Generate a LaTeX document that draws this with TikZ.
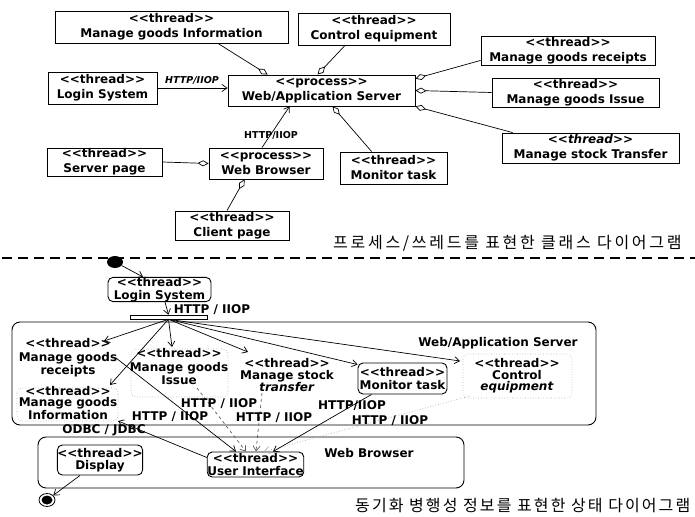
\documentclass[tikz,border=0pt]{standalone}
\usepackage{fontspec}
\setmainfont{DejaVu Sans}
\newfontfamily\krfont{Noto Sans CJK KR}[LetterSpace=17]
\newfontfamily\krtight{Noto Sans CJK KR}[LetterSpace=13]
\usetikzlibrary{arrows.meta,positioning,calc,shapes.geometric}
\definecolor{UMfaint}{RGB}{170,170,170}
\definecolor{UMdash}{RGB}{90,90,90}
\newcommand{\thr}{<\kern0pt<thread>\kern0pt>}
\newcommand{\proc}{<\kern0pt<process>\kern0pt>}

\begin{document}
\begin{tikzpicture}[x=1pt,y=-1pt,
    font=\bfseries\fontsize{12}{15}\selectfont,
    cls/.style={draw,line width=0.9pt,align=center,inner sep=0pt},
    st/.style={draw,rounded corners=5pt,line width=0.9pt,align=center,inner sep=0pt,
      font=\bfseries\fontsize{12}{12.5}\selectfont},
    txt/.style={align=center,inner sep=0pt},
    agg/.style={{Diamond[open,length=11pt,width=6pt]}-,line width=0.7pt},
    flow/.style={-{Straight Barb[length=5pt,width=7pt]},line width=0.7pt},
    small/.style={inner sep=0pt,font=\bfseries\fontsize{9.5}{10}\selectfont},
    faint/.style={UMfaint,dotted,rounded corners=5pt,line width=0.6pt}]
  \useasboundingbox (0,0) rectangle (695,516);

  % class diagram
  \node[cls,minimum width=233,minimum height=32] (minfo) at (171.5,27) {\thr\\Manage goods Information};
  \node[cls,minimum width=152,minimum height=32] (ctrl) at (374,29) {\thr\\Control equipment};
  \node[cls,minimum width=109,minimum height=32] (login) at (102.5,88) {\thr\\Login System};
  \node[cls,minimum width=187,minimum height=31] (webapp) at (321.5,90.5) {\proc\\Web/Application Server};
  \node[cls,minimum width=174,minimum height=29] (receipts) at (568,50.5) {\thr\\Manage goods receipts};
  \node[cls,minimum width=167,minimum height=29] (issue) at (575.5,92.5) {\thr\\Manage goods Issue};
  \node[cls,minimum width=177,minimum height=30] (transfer) at (590.5,148) {\textit{\thr}\\Manage stock Transfer};
  \node[cls,minimum width=107,minimum height=32] (monitor) at (393.5,168) {\thr\\Monitor task};
  \node[cls,minimum width=114,minimum height=31] (browser) at (266,163.5) {\proc\\Web Browser};
  \node[cls,minimum width=115,minimum height=28] (srvpage) at (104.5,162) {\thr\\Server page};
  \node[cls,minimum width=114,minimum height=29] (client) at (232,225.5) {\thr\\Client page};

  \draw[agg] ([xshift=40]webapp.north west) -- ([xshift=46.5]minfo.south);
  \draw[agg] ([xshift=90]webapp.north west) -- ([xshift=-29]ctrl.south);
  \draw[agg] ([yshift=-4]webapp.north east) -- ([yshift=5]receipts.south west);
  \draw[agg] (webapp.east) -- (issue.west);
  \draw[agg] (webapp.south east) -- ([xshift=11]transfer.north west);
  \draw[agg] ([xshift=105]webapp.south west) -- ([xshift=32]monitor.north west);
  \draw[agg] (browser.west) -- (srvpage.east);
  \draw[agg] ([xshift=36]browser.south west) -- ([xshift=-5]client.north);
  \draw[flow] (login.east) -- (login.east -| webapp.west);
  \draw[flow] ([xshift=-4]browser.north) -- ([xshift=62]webapp.south west);
  \node[small] (hiop1) at (192,80) {\textit{HTTP/IIOP}};
  \node[small] (hiop2) at (271,135) {HTTP/IIOP};

  \node[anchor=west,inner sep=0pt,font=\krfont\fontsize{16}{16}\selectfont] (cap1) at (333,243)
    {프로세스/쓰레드를 표현한 클래스 다이어그램};
  \draw[line width=1.6pt,dash pattern=on 10pt off 6pt] (2,258) -- (695,258);

  % state diagram
  \node[ellipse,fill,minimum width=16,minimum height=12,inner sep=0pt] (init) at (115,262) {};
  \node[st,minimum width=103,minimum height=23] (login2) at (159.5,289.5) {\thr\\Login System};
  \node[draw,fill=white,minimum width=77,minimum height=4,inner sep=0pt,line width=0.6pt] (bar) at (168.5,317) {};
  \draw[flow] (init) -- ([xshift=-16.5]login2.north);
  \draw[flow] ([xshift=5.5]login2.south) -- (bar.north);
  \node[inner sep=0pt] (hiop3) at (212,310) {HTTP / IIOP};

  \node[draw,rounded corners=8pt,minimum width=584,minimum height=103,line width=0.9pt] (wasbox) at (304,373.5) {};
  \node[inner sep=0pt] (wastitle) at (498,343) {Web/Application Server};

  \draw[faint] (17,388) rectangle (118,421);
  \draw[faint] (131,349) rectangle (228,397);
  \draw[faint] (463,354) rectangle (572,398);

  \node[txt,font=\bfseries\fontsize{12}{13.5}\selectfont] (receipts2) at (68,358) {\thr\\Manage goods\\receipts};
  \node[txt,font=\bfseries\fontsize{12}{11.5}\selectfont] (info2) at (68,403) {\thr\\Manage goods\\Information};
  \node[txt,font=\bfseries\fontsize{12}{13.5}\selectfont] (issue2) at (179,367) {\thr\\Manage goods\\Issue};
  \node[txt,font=\bfseries\fontsize{12}{12}\selectfont] (transfer2) at (287,375) {\thr\\Manage stock\\\textit{transfer}};
  \node[st,minimum width=89,minimum height=31] (monitor2) at (402.5,378.5) {\thr\\Monitor task};
  \node[txt,font=\bfseries\fontsize{12}{11.5}\selectfont] (control2) at (517,376) {\thr\\Control\\\textit{equipment}};

  \draw[flow] (bar.south) -- ([xshift=36,yshift=17]receipts2.center);
  \draw[flow] (bar.south) -- ([xshift=42,yshift=18]info2.center);
  \draw[flow] (bar.south) -- ([xshift=-7,yshift=20]issue2.center);
  \draw[flow] (bar.south) -- ([xshift=-39,yshift=23]transfer2.center);
  \draw[flow] (bar.south) -- ([yshift=-2]monitor2.north west);
  \draw[flow] (bar.south) -- ([xshift=-57,yshift=15]control2.center);

  \node[draw,rounded corners=8pt,minimum width=426,minimum height=51,line width=0.9pt] (wbbox) at (251,462.5) {};
  \node[inner sep=0pt] (wbtitle) at (369,453) {Web Browser};
  \node[st,minimum width=84,minimum height=30] (display) at (100,460) {\thr\\Display};
  \node[st,minimum width=95,minimum height=25] (ui) at (255.5,464.5) {\thr\\User Interface};
  \node[ellipse,draw,minimum width=16,minimum height=13,inner sep=0pt,line width=0.8pt] (final) at (47,500) {};
  \fill (final.center) ellipse (5.5 and 4.5);

  \draw[flow] ([xshift=48]receipts2.center) -- ([xshift=-19.5]ui.north);
  \draw[flow,UMdash,dashed] ([xshift=18,yshift=-21]issue2.center) -- ([xshift=-9.5]ui.north);
  \draw[flow,UMdash,dashed] ([xshift=-25,yshift=-18]transfer2.center) -- ([xshift=0.5]ui.north);
  \draw[flow,UMfaint,dotted] ([xshift=-47,yshift=-20]control2.center) -- ([xshift=8.5]ui.north);
  \draw[flow] ([xshift=14]monitor2.south west) -- ([xshift=17.5]ui.north);
  \draw[flow] ([yshift=7]ui.west) -- ([xshift=50,yshift=-18]info2.center);
  \draw[flow] ([xshift=-20]display.south) -- (final);

  \node[inner sep=0pt] (hiop4) at (170,417) {HTTP / IIOP};
  \node[inner sep=0pt] (hiop5) at (219,404) {HTTP / IIOP};
  \node[inner sep=0pt] (hiop6) at (274,418) {HTTP / IIOP};
  \node[inner sep=0pt] (hiop7) at (352,406) {HTTP/IIOP};
  \node[inner sep=0pt] (hiop8) at (390,421) {HTTP / IIOP};
  \node[inner sep=0pt] (odbc) at (104,430) {ODBC / JDBC};

  \node[anchor=west,inner sep=0pt,font=\krtight\fontsize{16}{16}\selectfont] (cap2) at (355,506)
    {동기화 병행성 정보를 표현한 상태 다이어그램};
\end{tikzpicture}
\end{document}
